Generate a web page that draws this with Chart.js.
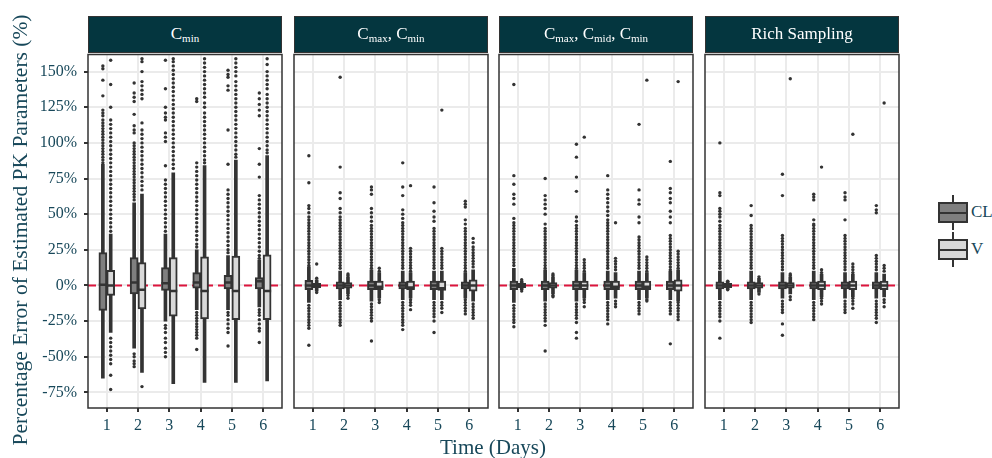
<!DOCTYPE html>
<html>
<head>
<meta charset="utf-8">
<script src="https://cdn.jsdelivr.net/npm/chart.js@4.4.1/dist/chart.umd.min.js"></script>
<style>
  body { margin: 0; background: #fff; width: 992px; height: 458px; position: relative; overflow: hidden;
         font-family: 'Liberation Serif', 'DejaVu Serif', serif; }
  canvas { position: absolute; top: 48px; }
  .strip { position: absolute; top: 16px; width: 194px; height: 37px; background: #04363f; color: #fff;
           font-size: 17px; text-align: center; line-height: 33px; box-sizing: border-box; border: 1.5px solid #333; }
  .strip sub { font-size: 11px; vertical-align: -3px; }
  .ytitle { position: absolute; left: -220px; top: 218px; width: 480px; height: 24px; line-height: 24px;
            text-align: center; font-size: 21.5px; color: #18485a; transform: rotate(-90deg); }
  .xtitle { position: absolute; left: 393px; top: 435px; width: 200px; text-align: center; font-size: 21px; color: #18485a; }
  .key { position: absolute; left: 938px; width: 30px; height: 21px; box-sizing: border-box; border: 2px solid #333; }
  .key .med { position: absolute; left: 0; right: 0; top: 7.5px; height: 2px; background: #333; }
  .stub { position: absolute; left: 952px; width: 2px; height: 7px; background: #333; }
  .klab { position: absolute; left: 971px; font-size: 17px; color: #18485a; line-height: 20px; }
</style>
</head>
<body>
<canvas id="p1" width="290" height="410" style="left:0px"></canvas>
<canvas id="p2" width="210" height="410" style="left:286px"></canvas>
<canvas id="p3" width="210" height="410" style="left:491px"></canvas>
<canvas id="p4" width="210" height="410" style="left:697px"></canvas>

<div class="strip" style="left:88px">C<sub>min</sub></div>
<div class="strip" style="left:294px">C<sub>max</sub>, C<sub>min</sub></div>
<div class="strip" style="left:499px">C<sub>max</sub>, C<sub>mid</sub>, C<sub>min</sub></div>
<div class="strip" style="left:705px">Rich Sampling</div>

<div class="ytitle">Percentage Error of Estimated PK Parameters (%)</div>
<div class="xtitle">Time (Days)</div>

<div class="stub" style="top:195px"></div>
<div class="key" style="top:202px;background:#7f7f7f"><div class="med"></div></div>
<div class="stub" style="top:223px"></div>
<div class="klab" style="top:202px">CL</div>
<div class="stub" style="top:232px"></div>
<div class="key" style="top:239px;background:#d9d9d9"><div class="med"></div></div>
<div class="stub" style="top:260px"></div>
<div class="klab" style="top:239px">V</div>

<script>
// jours et graduations
var days = [1, 2, 3, 4, 5, 6];
var yTicks = [-75, -50, -25, 0, 25, 50, 75, 100, 125, 150];

// statistiques des boites : [min moustache, Q1, mediane, Q3, max moustache] par jour
var cminCL = [[-65, -17.5, 0.5, 23, 85], [-44, -6, 2, 19.5, 58], [-25, -3.5, 1.5, 12.5, 36],
              [-17, -2, 2, 9, 25], [-17, -2.5, 2, 7, 21], [-15, -2.5, 3, 5.5, 18]];
var cminV = [[-33, -7, 0, 10.5, 36], [-61, -16.5, -3, 16, 64], [-69, -21.5, -4, 19.5, 79],
             [-68, -23.5, -4, 20, 84], [-68, -24, -4, 20.5, 88], [-67, -24, -4, 21.5, 91]];
var cmaxCL = [[-12, -3, 0, 3.5, 13], [-10, -2.5, 0, 2.5, 10], [-11, -3, 0, 3, 11],
              [-10, -2.5, 0, 2.5, 10], [-10, -3, 0, 3, 10], [-9, -2.5, 0, 2.5, 9]];
var cmaxV = [[-4, -1.5, 0, 1.5, 4], [-6, -2, 0, 2, 6], [-9, -3, -1, 3, 9],
             [-9, -3, -1.5, 3, 9], [-10, -3.5, -2, 3, 10], [-11, -4, 0, 4, 11]];
var cmidCL = [[-12, -3, 0, 3, 12], [-11, -3, 0, 3, 11], [-11, -3, 0, 3, 11],
              [-10, -3, 0, 3, 10], [-10, -3, 0, 3, 10], [-10, -3, 0, 3, 10]];
var cmidV = [[-3, -1.5, 0, 1.5, 3], [-6, -2, 0, 2, 6], [-9, -3, 0, 3, 9],
             [-9, -3, -1, 3, 9], [-9, -3, -1, 3, 9], [-11, -4, 0, 4, 11]];
var richCL = [[-10, -2.5, 0, 2.5, 10], [-10, -2.5, 0, 2.5, 10], [-9, -2.5, 0, 2.5, 9],
              [-10, -2.5, 0, 2.5, 10], [-9, -2.5, 0, 2.5, 9], [-9, -2.5, 0, 2.5, 9]];
var richV = [[-3, -1.5, 0, 1.5, 3], [-5, -2, 0, 2, 5], [-6, -2, 0, 2, 6],
             [-8, -3, 0, 3, 8], [-8, -3, 0, 3, 8], [-8, -3, 0, 3, 8]];

// valeurs aberrantes par jour
var cminCLOut = [
  [154, 152, 144, 133, 123, 121, 119, 116, 114, 112, 110, 108, 106, 104, 102, 100, 98, 96, 94, 92, 90, 88, 86],
  [142, 135, 132, 129, 120, 112, 109, 107, 100, 98, 96, 94, 92, 90, 88, 86, 84, 82, 80, 78, 76, 74, 72, 70, 68, 66, 64, 62, 60, -48, -50, -53, -55, -57],
  [158, 138, 125, 121, 118, 116, 107, 104, 101, 84, 74, 71, 68, 65, 62, 59, 56, 53, 50, 47, 44, 41, 38, -28, -30, -33, -37, -40, -44, -47, -50],
  [131, 129, 86, 83, 80, 77, 74, 71, 68, 65, 62, 59, 56, 53, 50, 47, 44, 41, 38, 35, 32, 29, 27, -19, -21, -23, -25, -27, -29, -31, -33, -35, -37, -45],
  [151, 148, 146, 140, 137, 109, 85, 67, 64, 61, 58, 55, 52, 49, 46, 43, 40, 37, 34, 31, 28, 25, 23, -19, -21, -24, -27, -30, -33, -42.5],
  [135, 131, 127, 123, 119, 96, 85, 76, 63, 60, 57, 54, 51, 48, 45, 42, 39, 36, 33, 30, 27, 24, 21, 19, -17, -19, -21, -24, -27, -30, -32, -40]
];
var cminVOut = [
  [158, 141, 125, 116, 113, 110, 107, 104, 101, 98, 95, 92, 89, 86, 83, 80, 77, 74, 71, 68, 65, 62, 59, 56, 53, 50, 47, 44, 41, 38, -37, -40, -43, -46, -49, -52, -55, -63, -73],
  [159, 157, 150, 143, 140, 137, 134, 131, 114, 109, 106, 103, 100, 97, 94, 91, 88, 85, 82, 79, 76, 73, 70, 67, -71],
  [159, 157, 154, 151, 148, 145, 142, 139, 136, 133, 130, 127, 124, 121, 118, 115, 112, 109, 106, 103, 100, 97, 94, 91, 88, 85, 82],
  [159, 156, 153, 150, 147, 144, 141, 138, 135, 132, 128, 125, 121, 118, 115, 112, 109, 106, 103, 100, 97, 94, 91, 88, 86],
  [159, 156, 153, 150, 147, 143, 140, 137, 134, 131, 128, 125, 122, 119, 116, 113, 110, 107, 104, 101, 98, 95, 92, 90],
  [159, 155, 150, 147, 144, 141, 138, 134, 131, 128, 125, 122, 119, 116, 113, 110, 107, 104, 101, 98, 95, 93]
];
var cmaxCLOut = [
  [91, 72, 56, 54, 51, 48, 46, 44, 42, 40, 38, 36, 34, 32, 30, 28, 26, 24, 22, 20, 18, 16, 14, -14, -16, -18, -20, -22, -24, -26, -28, -30, -42],
  [146, 83, 65, 61, 54, 51, 48, 46, 44, 42, 40, 38, 36, 34, 32, 30, 28, 26, 24, 22, 20, 18, 16, 14, 12, -12, -14, -16, -18, -20, -22, -24, -26, -28],
  [69, 67, 64, 54, 51, 48, 45, 42, 40, 38, 36, 34, 32, 30, 28, 26, 24, 22, 20, 18, 16, 14, 12, -13, -15, -17, -19, -21, -23, -25, -39],
  [86, 69, 63, 53, 50, 47, 44, 42, 40, 38, 36, 34, 32, 30, 28, 26, 24, 22, 20, 18, 16, 14, 12, -12, -14, -16, -18, -20, -22, -24, -26, -28, -31],
  [69, 58, 52, 48, 45, 40, 38, 36, 34, 32, 30, 28, 26, 24, 22, 20, 18, 16, 14, 12, -12, -14, -16, -18, -20, -22, -25, -33],
  [59, 57, 55, 46, 43, 40, 38, 36, 34, 32, 30, 28, 26, 24, 22, 20, 18, 16, 14, 12, 10, -10, -12, -14, -16, -18, -20]
];
var cmaxVOut = [
  [15, 5, -5],
  [8, 7, -7, -9],
  [12, 10, -10, -12],
  [70, 26, 24, 22, 20, 18, 16, 14, 12, 10, -10, -12, -14, -17],
  [123, 26, 24, 22, 20, 18, 16, 14, 12, -12, -14, -16, -19],
  [33, 30, 27, 25, 23, 21, 19, 17, 15, 13, -13, -15, -17, -19, -21, -23]
];
var cmidCLOut = [
  [141, 77, 71, 64, 61, 57, 47, 44, 42, 40, 38, 36, 34, 32, 30, 28, 26, 24, 22, 20, 18, 16, 14, -14, -16, -18, -20, -22, -24, -26, -29],
  [75, 63, 60, 57, 54, 50, 43, 40, 38, 36, 34, 32, 30, 28, 26, 24, 22, 20, 18, 16, 14, 12, -13, -15, -17, -19, -21, -23, -25, -28, -46],
  [99, 90, 76, 66, 48, 45, 42, 40, 38, 36, 34, 32, 30, 28, 26, 24, 22, 20, 18, 16, 14, 12, -13, -15, -17, -19, -21, -23, -26, -33, -37],
  [77, 67, 64, 61, 58, 55, 52, 49, 46, 44, 42, 40, 38, 36, 34, 32, 30, 28, 26, 24, 22, 20, 18, 16, 14, 12, -12, -14, -16, -18, -20, -22, -24, -27],
  [113, 67, 60, 57, 48, 44, 34, 32, 30, 28, 26, 24, 22, 20, 18, 16, 14, 12, -12, -14, -16, -18, -20],
  [87, 68, 65, 61, 58, 52, 48, 44, 35, 33, 31, 29, 27, 25, 23, 21, 19, 17, 15, 13, 11, -12, -14, -16, -18, -20, -41]
];
var cmidVOut = [
  [4, -4],
  [8, 7, -7, -8],
  [104, 18, 16, 14, 12, 10, -10, -12, -15],
  [44, 19, 17, 15, 13, 11, -11, -13, -15],
  [144, 20, 18, 16, 14, 12, 10, -10, -11],
  [143, 24, 22, 20, 18, 16, 14, 12, -12, -14, -16, -18, -20, -22, -24]
];
var richCLOut = [
  [100, 65, 63, 54, 52, 50, 48, 45, 42, 40, 38, 36, 34, 32, 30, 28, 26, 24, 22, 20, 18, 16, 14, 12, -12, -14, -16, -18, -20, -22, -25, -37],
  [56, 49, 42, 40, 38, 36, 34, 32, 30, 28, 26, 24, 22, 20, 18, 16, 14, 12, -12, -14, -16, -18, -20, -22, -24, -26],
  [78, 63, 35, 33, 31, 29, 27, 25, 23, 21, 19, 17, 15, 13, 11, -11, -13, -15, -17, -19, -27, -35],
  [64, 62, 60, 46, 43, 42, 40, 38, 36, 34, 32, 30, 28, 26, 24, 22, 20, 18, 16, 14, 12, -12, -14, -16, -18, -20, -22, -24],
  [65, 62, 60, 46, 35, 33, 31, 29, 27, 25, 23, 21, 19, 17, 15, 13, 11, -11, -13, -15, -17, -19],
  [56, 53, 51, 21, 19, 17, 15, 13, 11, -11, -13, -15, -17, -19, -21, -23, -26]
];
var richVOut = [
  [3, -3],
  [6, -6],
  [145, 8, 7, -8, -10],
  [83, 11, 9, -9, -11, -13],
  [106, 15, 13, 11, 9, -9, -11, -13, -16],
  [128, 14, 12, 10, -10, -12, -15]
];

var ink = '#333333';
var textCol = '#18485a';

// cadre du panneau + ligne zero en pointilles
var panelFrame = {
  id: 'panelFrame',
  beforeDatasetsDraw: function(chart) {
    var ctx = chart.ctx, a = chart.chartArea;
    var y0 = chart.scales.y.getPixelForValue(0);
    ctx.save();
    ctx.strokeStyle = '#dc143c';
    ctx.lineWidth = 2;
    ctx.setLineDash([8, 5]);
    ctx.beginPath();
    ctx.moveTo(a.left, y0);
    ctx.lineTo(a.right, y0);
    ctx.stroke();
    ctx.restore();
  },
  afterDraw: function(chart) {
    var ctx = chart.ctx, a = chart.chartArea;
    ctx.save();
    ctx.strokeStyle = ink;
    ctx.lineWidth = 1.5;
    ctx.strokeRect(a.left, a.top, a.right - a.left, a.bottom - a.top);
    ctx.restore();
  }
};

function boxSets(stats, outs, off, fill) {
  var pts = [];
  outs.forEach(function(list, i) {
    list.forEach(function(v) { pts.push({ x: days[i] + off, y: v }); });
  });
  return [
    { type: 'bar', grouped: false, order: 4, barThickness: 3, backgroundColor: ink,
      data: days.map(function(d, i) { return { x: d + off, y: [stats[i][0], stats[i][4]] }; }) },
    { type: 'bar', grouped: false, order: 3, barThickness: 8, backgroundColor: fill,
      borderColor: ink, borderWidth: 2, borderSkipped: false,
      data: days.map(function(d, i) { return { x: d + off, y: [stats[i][1], stats[i][3]] }; }) },
    { type: 'line', showLine: false, order: 2, pointStyle: 'line', pointRadius: 4,
      pointBorderWidth: 2.5, pointBorderColor: ink,
      data: days.map(function(d, i) { return { x: d + off, y: stats[i][2] }; }) },
    { type: 'line', showLine: false, order: 1, pointRadius: 1.7, pointBorderWidth: 0,
      pointBackgroundColor: ink,
      data: pts }
  ];
}

function makePanel(id, cl, clOut, v, vOut, first) {
  new Chart(document.getElementById(id), {
    type: 'bar',
    data: { datasets: boxSets(cl, clOut, -0.125, '#7f7f7f').concat(boxSets(v, vOut, 0.125, '#d9d9d9')) },
    options: {
      responsive: false,
      animation: false,
      events: [],
      layout: { padding: { top: 5, right: 8, bottom: 0, left: first ? 0 : 8 } },
      plugins: { legend: { display: false }, tooltip: { enabled: false } },
      scales: {
        x: {
          type: 'linear', min: 0.4, max: 6.6, offset: false,
          afterBuildTicks: function(s) { s.ticks = days.map(function(d) { return { value: d }; }); },
          afterFit: function(s) { s.height = 50; s.paddingLeft = 0; s.paddingRight = 0; },
          grid: { offset: false, color: '#ebebeb', lineWidth: 2, tickColor: ink, tickLength: 4, tickWidth: 2 },
          border: { display: false },
          ticks: { color: textCol, padding: 4, font: { family: 'Liberation Serif', size: 16 } }
        },
        y: {
          min: -86, max: 162,
          afterBuildTicks: function(s) { s.ticks = yTicks.map(function(t) { return { value: t }; }); },
          afterFit: function(s) { s.width = first ? 88 : 0; s.paddingTop = 0; s.paddingBottom = 0; },
          grid: { color: '#ebebeb', lineWidth: 2, drawTicks: first, tickColor: ink, tickLength: 4, tickWidth: 2 },
          border: { display: false },
          ticks: { display: first, color: textCol, padding: 7, font: { family: 'Liberation Serif', size: 16 },
                   callback: function(val) { return val + '%'; } }
        }
      }
    },
    plugins: [panelFrame]
  });
}

makePanel('p1', cminCL, cminCLOut, cminV, cminVOut, true);
makePanel('p2', cmaxCL, cmaxCLOut, cmaxV, cmaxVOut, false);
makePanel('p3', cmidCL, cmidCLOut, cmidV, cmidVOut, false);
makePanel('p4', richCL, richCLOut, richV, richVOut, false);
</script>
</body>
</html>
